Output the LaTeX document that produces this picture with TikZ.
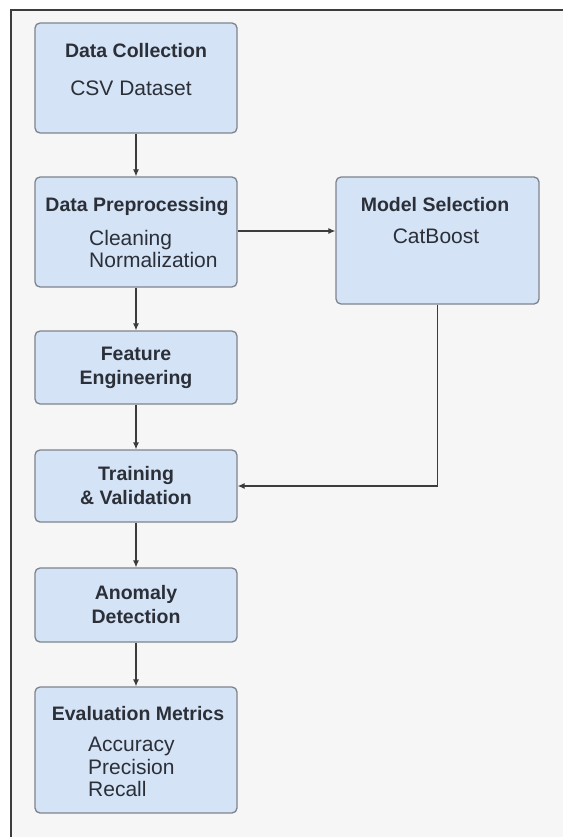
\documentclass[tikz,border=0pt]{standalone}
\usepackage{fontspec}
\setmainfont{Liberation Sans}
\usetikzlibrary{arrows.meta,positioning}
\definecolor{BoxBlue}{HTML}{D5E3F6}
\definecolor{EdgeGray}{HTML}{7E848D}
\definecolor{InkDark}{HTML}{2A2F38}
\definecolor{FrameDark}{HTML}{3C3C3C}
\definecolor{PaperGray}{HTML}{F6F6F6}

\begin{document}
\begin{tikzpicture}[
    x=1pt,y=-1pt,
    >={Latex[length=7pt,width=6pt]},
    stage/.style={draw=EdgeGray,fill=BoxBlue,line width=1.3pt,rounded corners=5pt,minimum width=202pt,inner sep=0pt,align=center,text=InkDark,font=\bfseries\fontsize{19.5}{24}\selectfont},
    head/.style={anchor=base,inner sep=0pt,text=InkDark,font=\bfseries\fontsize{19.5}{24}\selectfont},
    detail/.style={inner sep=0pt,align=left,text=InkDark,font=\fontsize{21}{22.5}\selectfont},
    arr/.style={->,line width=1.1pt,draw=FrameDark}
  ]
  % page and frame
  \useasboundingbox (0,0) rectangle (563,837);
  \fill[white] (0,0) rectangle (563,837);
  \fill[PaperGray] (11,10) rectangle (563,837);
  \draw[FrameDark,line width=2.3pt] (11,837) -- (11,10) -- (563,10);

  % boxes
  \node[stage,minimum height=110pt] (collect) at (136,78) {};
  \node[stage,minimum height=110pt] (prep) at (136,232) {};
  \node[stage,minimum width=203pt,minimum height=127pt] (model) at (437.5,240.5) {};
  \node[stage,minimum height=73pt] (feature) at (136,367.5) {Feature\\Engineering};
  \node[stage,minimum height=72pt] (train) at (136,486) {Training\\\& Validation};
  \node[stage,minimum height=74pt] (anomaly) at (136,605) {Anomaly\\Detection};
  \node[stage,minimum height=126pt] (evalm) at (136,750) {};

  % texts inside the boxes
  \node[head] (collectHead) at (136,58) {Data Collection};
  \node[detail,anchor=base] (collectSub) at (131,96) {CSV Dataset};
  \node[head] (prepHead) at (137,211) {Data Preprocessing};
  \node[detail,anchor=north west] (prepSub) at (89,230) {Cleaning\\Normalization};
  \node[head] (modelHead) at (435,211) {Model Selection};
  \node[detail,anchor=base] (modelSub) at (436,243) {CatBoost};
  \node[head] (evalHead) at (138,720) {Evaluation Metrics};
  \node[detail,anchor=north west] (evalSub) at (88,737) {Accuracy\\Precision\\Recall};

  % flow
  \draw[arr] (collect) -- (prep);
  \draw[arr] (prep) -- (feature);
  \draw[arr] (feature) -- (train);
  \draw[arr] (train) -- (anomaly);
  \draw[arr] (anomaly) -- (evalm);
  \draw[arr] ([yshift=1pt]prep.east) -- ([yshift=1pt]prep.east -| model.west);
  \draw[arr] (model.south) |- (train.east);
\end{tikzpicture}
\end{document}
